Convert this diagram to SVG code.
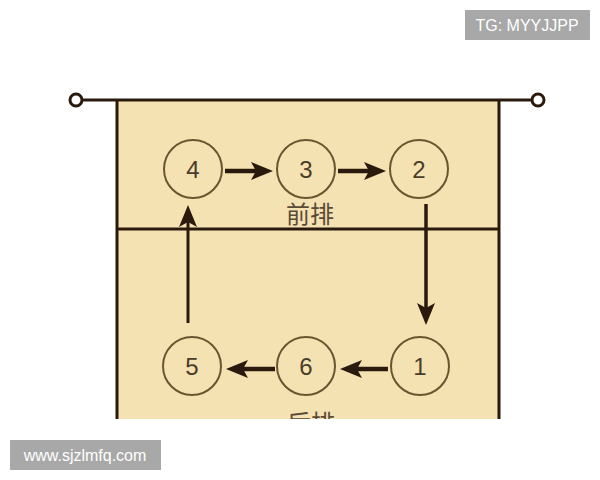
<svg xmlns="http://www.w3.org/2000/svg" width="600" height="480" viewBox="0 0 600 480">
<style>
.pos circle{fill:none;stroke:#6b5530;stroke-width:2}
.pos text{font-family:"Liberation Sans",Arial,sans-serif;font-size:24px;fill:#4a3c2a;text-anchor:middle}
.line{stroke:#2a1a0e;stroke-width:3;fill:none}
.arr{stroke:#2a1a0e;stroke-width:4.5;fill:none}
.zone{font-family:"Noto Sans CJK SC",sans-serif;font-size:24px;fill:#5a4a38;text-anchor:middle}
.wm rect{fill:#a8a8a8}
.wm text{font-family:"Liberation Sans",Arial,sans-serif;font-size:16px;fill:#ffffff;text-anchor:middle}
</style>
<defs>
<marker id="ah" viewBox="0 0 22 18" refX="5" refY="9" markerWidth="22" markerHeight="18" orient="auto" markerUnits="userSpaceOnUse">
<path d="M0,0 L22,9 L0,18 L5,9 Z" fill="#2a1a0e"/>
</marker>
<clipPath id="court"><rect x="0" y="0" width="600" height="419"/></clipPath>
</defs>
<rect width="600" height="480" fill="#ffffff"/>
<g id="court-area" clip-path="url(#court)">
<rect x="117" y="100" width="382" height="330" fill="#f5e2b2"/>
<line class="line" x1="117" y1="100" x2="117" y2="430"/>
<line class="line" x1="499" y1="100" x2="499" y2="430"/>
<line class="line" x1="117" y1="229" x2="499" y2="229"/>
<text class="zone" x="310" y="223">前排</text>
<text class="zone" x="311" y="432">后排</text>
</g>
<g id="net">
<line class="line" x1="76" y1="100" x2="538" y2="100"/>
<circle cx="76" cy="100" r="6" fill="#ffffff" stroke="#2a1a0e" stroke-width="3"/>
<circle cx="538" cy="100" r="6" fill="#ffffff" stroke="#2a1a0e" stroke-width="3"/>
</g>
<g id="connectors">
<line class="arr" x1="225" y1="171" x2="256" y2="171" marker-end="url(#ah)"/>
<line class="arr" x1="338" y1="171" x2="369" y2="171" marker-end="url(#ah)"/>
<line class="arr" x1="426" y1="204" x2="426" y2="308" style="stroke-width:3.5" marker-end="url(#ah)"/>
<line class="arr" x1="388" y1="369" x2="357" y2="369" marker-end="url(#ah)"/>
<line class="arr" x1="275" y1="369" x2="243" y2="369" marker-end="url(#ah)"/>
<line class="arr" x1="188" y1="323" x2="188" y2="222" style="stroke-width:3" marker-end="url(#ah)"/>
</g>
<g id="p4" class="pos"><circle cx="193" cy="169" r="29"/><text x="193" y="178">4</text></g>
<g id="p3" class="pos"><circle cx="306" cy="169" r="29"/><text x="306" y="178">3</text></g>
<g id="p2" class="pos"><circle cx="419" cy="169" r="29"/><text x="419" y="178">2</text></g>
<g id="p5" class="pos"><circle cx="192" cy="366" r="29"/><text x="192" y="375">5</text></g>
<g id="p6" class="pos"><circle cx="306" cy="366" r="29"/><text x="306" y="375">6</text></g>
<g id="p1" class="pos"><circle cx="420" cy="366" r="29"/><text x="420" y="375">1</text></g>
<g id="wm-tg" class="wm"><rect x="465" y="10" width="125" height="30"/><text x="527" y="31">TG: MYYJJPP</text></g>
<g id="wm-url" class="wm"><rect x="10" y="440" width="151" height="30"/><text x="85" y="461">www.sjzlmfq.com</text></g>
</svg>
